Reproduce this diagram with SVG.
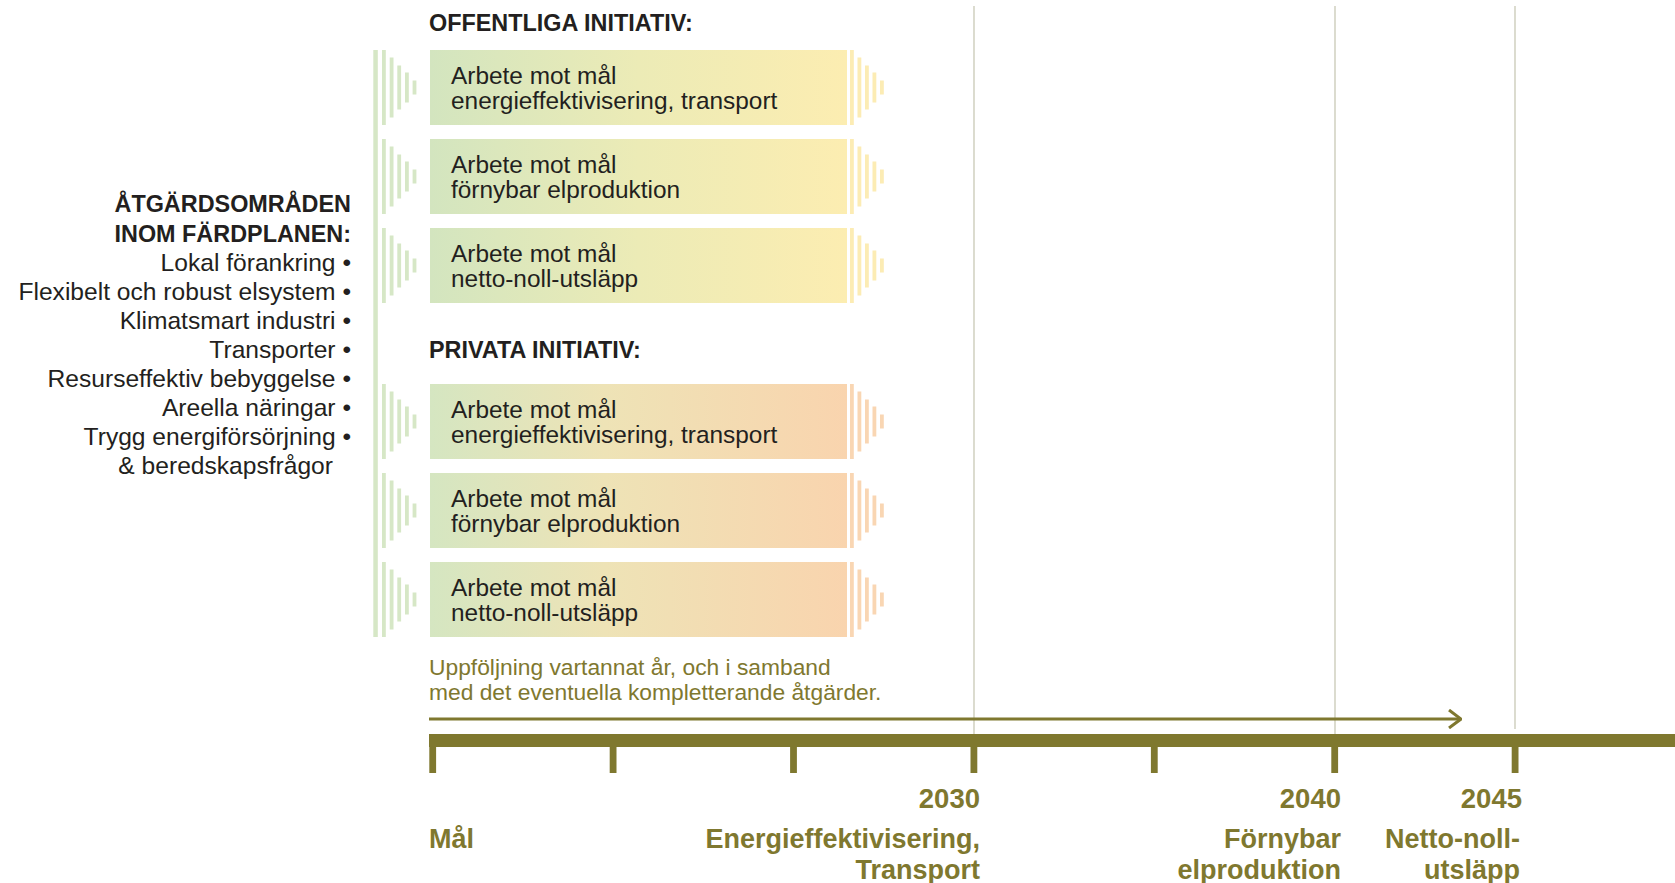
<svg xmlns="http://www.w3.org/2000/svg" xmlns:xlink="http://www.w3.org/1999/xlink" width="1675" height="883" viewBox="0 0 1675 883">
<style>
text { font-family: "Liberation Sans", Arial, Helvetica, sans-serif; fill: #231f20; }
.bt { font-size: 24.4px; }
.head { font-size: 23.4px; font-weight: bold; }
.list { font-size: 24.6px; text-anchor: end; }
.tl { font-size: 27.5px; font-weight: bold; fill: #7f782f; }
.lbl { font-size: 27px; }
.end { text-anchor: end; }
.follow { font-size: 22.8px; fill: #7f782f; }
.grid { stroke: #d3d3c3; stroke-width: 1.6; fill: none; }
.olive { fill: #7f782f; }
.combL { fill: #d6e7c6; }
.combRpub { fill: #fcecb4; }
.combRpriv { fill: #f9d6b3; }
</style>
<defs>
<linearGradient id="gPub" x1="0" y1="0" x2="1" y2="0">
<stop offset="0" stop-color="#d3e5bf"/>
<stop offset="0.5" stop-color="#ecebb6"/>
<stop offset="1" stop-color="#fcedb1"/>
</linearGradient>
<linearGradient id="gPriv" x1="0" y1="0" x2="1" y2="0">
<stop offset="0" stop-color="#d5e6c1"/>
<stop offset="0.42" stop-color="#eee3b6"/>
<stop offset="1" stop-color="#f9d4ae"/>
</linearGradient>
<g id="combL">
<rect x="382" y="0" width="3.8" height="75"/>
<rect x="389.7" y="7.5" width="3.8" height="60"/>
<rect x="397.3" y="15.5" width="3.8" height="44"/>
<rect x="405" y="22.5" width="3.8" height="30"/>
<rect x="412.6" y="30.5" width="3.8" height="14"/>
</g>
<g id="combR">
<rect x="850" y="0" width="3.8" height="75"/>
<rect x="857.5" y="7.5" width="3.8" height="60"/>
<rect x="865" y="15.5" width="3.8" height="44"/>
<rect x="872.5" y="22.5" width="3.8" height="30"/>
<rect x="880" y="30.5" width="3.8" height="14"/>
</g>
<marker id="chev" viewBox="0 0 14 20" refX="13" refY="10" markerWidth="14" markerHeight="20" markerUnits="userSpaceOnUse" orient="auto">
<polyline points="1,1 13,10 1,19" fill="none" stroke="#7f782f" stroke-width="3"/>
</marker>
</defs>

<g id="gridlines">
<line class="grid" x1="974" y1="6" x2="974" y2="734"/>
<line class="grid" x1="1335" y1="6" x2="1335" y2="734"/>
<line class="grid" x1="1515" y1="6" x2="1515" y2="729"/>
</g>

<g id="left-legend">
<text class="head end" x="351" y="212">ÅTGÄRDSOMRÅDEN</text>
<text class="head end" x="351" y="242">INOM FÄRDPLANEN:</text>
<text class="list" x="351" y="271">Lokal förankring •</text>
<text class="list" x="351" y="300">Flexibelt och robust elsystem •</text>
<text class="list" x="351" y="329">Klimatsmart industri •</text>
<text class="list" x="351" y="358">Transporter •</text>
<text class="list" x="351" y="387">Resurseffektiv bebyggelse •</text>
<text class="list" x="351" y="416">Areella näringar •</text>
<text class="list" x="351" y="445">Trygg energiförsörjning •</text>
<text class="list" x="333" y="474">&amp; beredskapsfrågor</text>
</g>

<rect id="spine" class="combL" x="373.3" y="50" width="4.5" height="587"/>

<text id="heading-public" class="head" x="429" y="31">OFFENTLIGA INITIATIV:</text>
<text id="heading-private" class="head" x="429" y="358">PRIVATA INITIATIV:</text>

<g id="pub-1">
<use xlink:href="#combL" class="combL" transform="translate(0,50)"/>
<rect x="430" y="50" width="417" height="75" fill="url(#gPub)"/>
<use xlink:href="#combR" class="combRpub" transform="translate(0,50)"/>
<text class="bt" x="451" y="84">Arbete mot mål</text>
<text class="bt" x="451" y="108.5">energieffektivisering, transport</text>
</g>
<g id="pub-2">
<use xlink:href="#combL" class="combL" transform="translate(0,139)"/>
<rect x="430" y="139" width="417" height="75" fill="url(#gPub)"/>
<use xlink:href="#combR" class="combRpub" transform="translate(0,139)"/>
<text class="bt" x="451" y="173">Arbete mot mål</text>
<text class="bt" x="451" y="197.5">förnybar elproduktion</text>
</g>
<g id="pub-3">
<use xlink:href="#combL" class="combL" transform="translate(0,228)"/>
<rect x="430" y="228" width="417" height="75" fill="url(#gPub)"/>
<use xlink:href="#combR" class="combRpub" transform="translate(0,228)"/>
<text class="bt" x="451" y="262">Arbete mot mål</text>
<text class="bt" x="451" y="286.5">netto-noll-utsläpp</text>
</g>
<g id="priv-1">
<use xlink:href="#combL" class="combL" transform="translate(0,384)"/>
<rect x="430" y="384" width="417" height="75" fill="url(#gPriv)"/>
<use xlink:href="#combR" class="combRpriv" transform="translate(0,384)"/>
<text class="bt" x="451" y="418">Arbete mot mål</text>
<text class="bt" x="451" y="442.5">energieffektivisering, transport</text>
</g>
<g id="priv-2">
<use xlink:href="#combL" class="combL" transform="translate(0,473)"/>
<rect x="430" y="473" width="417" height="75" fill="url(#gPriv)"/>
<use xlink:href="#combR" class="combRpriv" transform="translate(0,473)"/>
<text class="bt" x="451" y="507">Arbete mot mål</text>
<text class="bt" x="451" y="531.5">förnybar elproduktion</text>
</g>
<g id="priv-3">
<use xlink:href="#combL" class="combL" transform="translate(0,562)"/>
<rect x="430" y="562" width="417" height="75" fill="url(#gPriv)"/>
<use xlink:href="#combR" class="combRpriv" transform="translate(0,562)"/>
<text class="bt" x="451" y="596">Arbete mot mål</text>
<text class="bt" x="451" y="620.5">netto-noll-utsläpp</text>
</g>

<g id="followup">
<text class="follow" x="429" y="675">Uppföljning vartannat år, och i samband</text>
<text class="follow" x="429" y="699.5">med det eventuella kompletterande åtgärder.</text>
</g>

<g id="connectors">
<line x1="429" y1="719" x2="1461" y2="719" stroke="#7f782f" stroke-width="3" marker-end="url(#chev)"/>
</g>

<g id="timeline">
<rect class="olive" x="429" y="734" width="1246" height="13"/>
<rect class="olive" x="429.3" y="746" width="6.8" height="27"/>
<rect class="olive" x="609.7" y="746" width="6.8" height="27"/>
<rect class="olive" x="790.1" y="746" width="6.8" height="27"/>
<rect class="olive" x="970.5" y="746" width="6.8" height="27"/>
<rect class="olive" x="1150.9" y="746" width="6.8" height="27"/>
<rect class="olive" x="1331.3" y="746" width="6.8" height="27"/>
<rect class="olive" x="1511.7" y="746" width="6.8" height="27"/>
<text class="tl end" x="980" y="808">2030</text>
<text class="tl end" x="1341" y="808">2040</text>
<text class="tl end" x="1522" y="808">2045</text>
<text class="tl lbl" x="429" y="848">Mål</text>
<text class="tl lbl end" x="980" y="848">Energieffektivisering,</text>
<text class="tl lbl end" x="980" y="878.5">Transport</text>
<text class="tl lbl end" x="1341" y="848">Förnybar</text>
<text class="tl lbl end" x="1341" y="878.5">elproduktion</text>
<text class="tl lbl end" x="1520" y="848">Netto-noll-</text>
<text class="tl lbl end" x="1520" y="878.5">utsläpp</text>
</g>
</svg>
